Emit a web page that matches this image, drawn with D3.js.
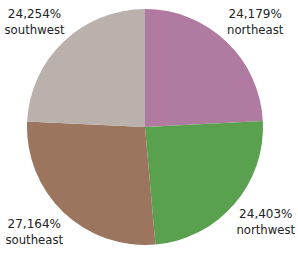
<!DOCTYPE html>
<html>
<head>
<meta charset="utf-8">
<script src="https://cdn.jsdelivr.net/npm/d3@7"></script>
<style>
body { margin:0; background:#fff; }
svg { display:block; }
</style>
</head>
<body>
<div id="chart"></div>
<script>
var width = 298,
height = 255,
cx = 145,
cy = 127,
rayon = 118,
rayonX = 160,
rayonY = 145;

var regions = ["northeast","northwest","southeast","southwest"];
var parts = [24.179, 24.403, 27.164, 24.254];
var couleurs = ["#B07AA1","#59A14F","#9C755F","#BAB0AC"];

var donnees = regions.map(function(r,i){ return {region:r, val:parts[i]}; });

var svg = d3.select("#chart").append("svg")
	.attr("width",width)
	.attr("height",height);

var g = svg.append("g").attr("transform","translate("+cx+","+cy+")");

var pie = d3.pie().sort(null).value(function(d){ return d.val; });
var arc = d3.arc().innerRadius(0).outerRadius(rayon);
var couleur = d3.scaleOrdinal().domain(regions).range(couleurs);

var arcs = pie(donnees);

g.selectAll("path.part")
	.data(arcs)
	.enter()
	.append("path")
	.attr("class","part")
	.attr("d",arc)
	.attr("fill",function(d){ return couleur(d.data.region); });

// labels placed on an ellipse around the pie, at each slice's mid angle
var lab = g.selectAll("g.lab")
	.data(arcs)
	.enter()
	.append("g")
	.attr("class","lab")
	.attr("transform",function(d){
		var a = (d.startAngle + d.endAngle)/2;
		return "translate("+(rayonX*Math.sin(a))+","+(-rayonY*Math.cos(a))+")";
	});

lab.append("text")
	.attr("y",-4)
	.attr("text-anchor","middle")
	.style("font-family","DejaVu Sans, sans-serif")
	.style("font-size","12px")
	.attr("fill","#222")
	.text(function(d){ return d.data.val.toFixed(3).replace(".",",")+"%"; });

lab.append("text")
	.attr("y",12)
	.attr("text-anchor","middle")
	.style("font-family","DejaVu Sans, sans-serif")
	.style("font-size","11.7px")
	.attr("fill","#222")
	.text(function(d){ return d.data.region; });
</script>
</body>
</html>
